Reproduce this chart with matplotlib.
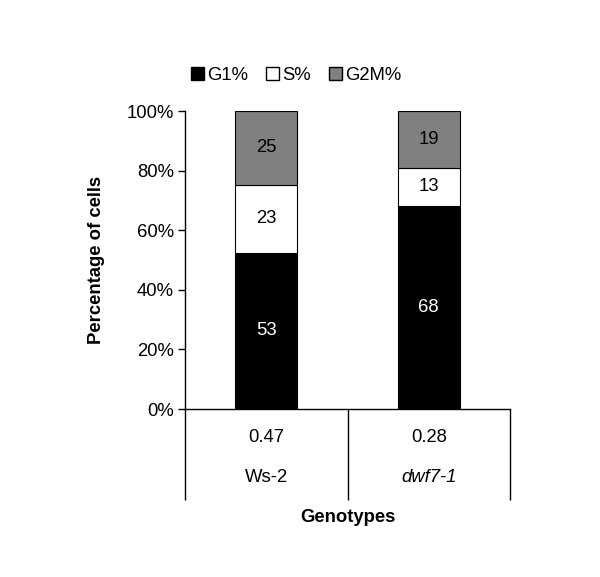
import matplotlib
matplotlib.use("Agg")
import matplotlib.pyplot as plt
import matplotlib.transforms as mtransforms
from matplotlib.patches import Patch
import numpy as np

plt.rcParams['font.family'] = ['Liberation Sans', 'DejaVu Sans']

genotypes = ["Ws-2", "dwf7-1"]
ratios = ["0.47", "0.28"]
series_names = ["G1%", "S%", "G2M%"]
g1 = [53, 68]
s = [23, 13]
g2m = [25, 19]
colors = ["#000000", "#ffffff", "#808080"]
text_colors = ["white", "black", "black"]
FS = 13.3

fig = plt.figure(figsize=(6, 5.77), dpi=100)
ax = fig.add_axes([185/600, 1-409/577, 325/600, 298/577])

data = np.array([g1, s, g2m], dtype=float)
totals = data.sum(axis=0)
pct = data / totals * 100
x = np.arange(len(genotypes))
bottom = np.zeros(len(genotypes))
for i, name in enumerate(series_names):
    ax.bar(x, pct[i], bottom=bottom, width=0.38, color=colors[i],
           edgecolor="black", linewidth=0.8, label=name)
    for j in range(len(genotypes)):
        ax.text(x[j], bottom[j] + pct[i][j] / 2, str(int(data[i][j])),
                ha="center", va="center", fontsize=FS, color=text_colors[i])
    bottom += pct[i]

ax.set_xlim(-0.5, len(genotypes) - 0.5)
ax.set_ylim(0, 100)
ax.set_yticks(np.arange(0, 101, 20))
ax.set_yticklabels([f"{v}%" for v in range(0, 101, 20)], fontsize=FS)
ax.tick_params(axis="y", direction="out", length=5, width=1, pad=3)
for sp in ["top", "right"]:
    ax.spines[sp].set_visible(False)
ax.spines["left"].set_linewidth(1)
ax.spines["bottom"].set_linewidth(1)

# category boundaries as long outward ticks (table grid)
ax.set_xticks([])
ax.set_xticks(np.arange(-0.5, len(genotypes)), minor=True)
ax.tick_params(axis="x", which="minor", direction="out", length=65.5, width=1)
ax.tick_params(axis="x", which="major", length=0)

trans = mtransforms.blended_transform_factory(ax.transData, ax.transAxes)
for j in range(len(genotypes)):
    ax.text(x[j], -28/298, ratios[j], transform=trans, ha="center", va="center", fontsize=FS)
    ax.text(x[j], -68/298, genotypes[j], transform=trans, ha="center", va="center",
            fontsize=FS, style=("italic" if j == 1 else "normal"))

ax.text(0.5, -109/298, "Genotypes", transform=ax.transAxes, ha="center", va="center",
        fontsize=FS, fontweight="bold")
fig.text(97/600, 1-260/577, "Percentage of cells", rotation=90, ha="center", va="center",
         fontsize=FS, fontweight="bold")

handles = [Patch(facecolor=c, edgecolor="black", linewidth=1.0) for c in colors]
fig.legend(handles, series_names, loc="center", bbox_to_anchor=(296/600, 1-75/577),
           ncol=3, frameon=False, fontsize=FS, handlelength=0.7, handleheight=0.7,
           handletextpad=0.15, columnspacing=1.0)

fig.savefig("out.png", dpi=100)
